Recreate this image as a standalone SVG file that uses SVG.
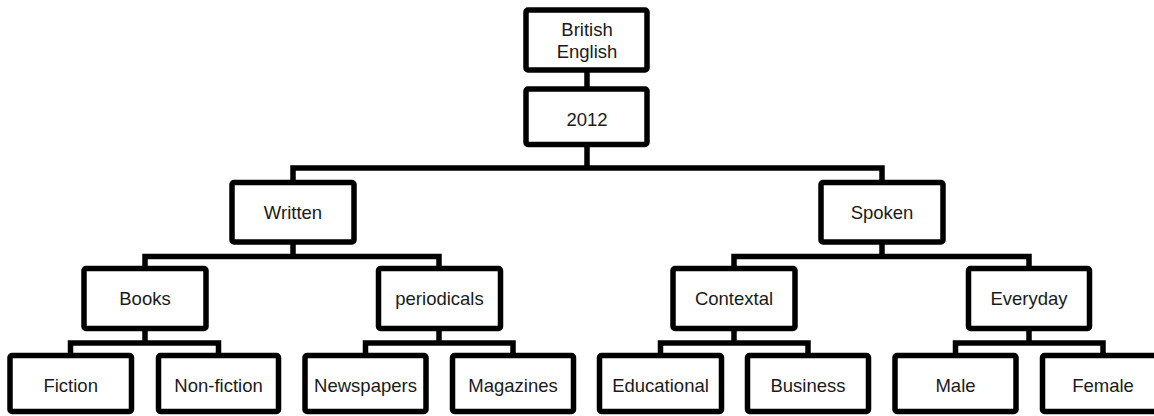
<svg xmlns="http://www.w3.org/2000/svg" width="1154" height="416" viewBox="0 0 1154 416">
<style>
.box{fill:#fff;stroke:#000;stroke-width:5.5;}
.conn{fill:none;stroke:#000;stroke-width:5.5;stroke-linejoin:miter;}
text{font-family:"Liberation Sans",Arial,sans-serif;font-size:18.5px;fill:#1a1a1a;text-anchor:middle;}
</style>
<rect width="1154" height="416" fill="#fff"/>
<g id="connectors">
<path class="conn" d="M587 70V89"/>
<path class="conn" d="M587 144V168"/>
<path class="conn" d="M293 182V168H882V182"/>
<path class="conn" d="M293 242V256.5"/>
<path class="conn" d="M145 268V256.5H439V268"/>
<path class="conn" d="M882 242V256.5"/>
<path class="conn" d="M734 268V256.5H1029V268"/>
<path class="conn" d="M145 329V343"/>
<path class="conn" d="M70.5 355V343H218.5V355"/>
<path class="conn" d="M439 329V343"/>
<path class="conn" d="M365.5 355V343H513V355"/>
<path class="conn" d="M734 329V343"/>
<path class="conn" d="M660.5 355V343H808V355"/>
<path class="conn" d="M1029 329V343"/>
<path class="conn" d="M955.5 355V343H1103V355"/>
</g>
<g id="british-english"><rect class="box" x="526" y="10" width="121" height="60" rx="2"/><text x="587" y="36">British</text><text x="587" y="57.5">English</text></g>
<g id="y2012"><rect class="box" x="526" y="89" width="121" height="55.5" rx="2"/><text x="587" y="126">2012</text></g>
<g id="written"><rect class="box" x="232" y="182.5" width="122" height="59.5" rx="2"/><text x="293" y="218.5">Written</text></g>
<g id="spoken"><rect class="box" x="821" y="182.5" width="122" height="59.5" rx="2"/><text x="882" y="218.5">Spoken</text></g>
<g id="books"><rect class="box" x="84" y="268.5" width="122" height="60" rx="2"/><text x="145" y="305">Books</text></g>
<g id="periodicals"><rect class="box" x="378.5" y="268.5" width="122" height="60" rx="2"/><text x="439.5" y="305">periodicals</text></g>
<g id="contextal"><rect class="box" x="673" y="268.5" width="122" height="60" rx="2"/><text x="734" y="305">Contextal</text></g>
<g id="everyday"><rect class="box" x="968.5" y="268.5" width="121" height="60" rx="2"/><text x="1029" y="305">Everyday</text></g>
<g id="fiction"><rect class="box" x="10" y="355.5" width="121.5" height="56" rx="2"/><text x="70.7" y="391.5">Fiction</text></g>
<g id="non-fiction"><rect class="box" x="158.5" y="355.5" width="120" height="56" rx="2"/><text x="218.5" y="391.5">Non-fiction</text></g>
<g id="newspapers"><rect class="box" x="305" y="355.5" width="121" height="56" rx="2"/><text x="365.5" y="391.5">Newspapers</text></g>
<g id="magazines"><rect class="box" x="452.5" y="355.5" width="121" height="56" rx="2"/><text x="513" y="391.5">Magazines</text></g>
<g id="educational"><rect class="box" x="599.5" y="355.5" width="122" height="56" rx="2"/><text x="660.5" y="391.5">Educational</text></g>
<g id="business"><rect class="box" x="747.5" y="355.5" width="121" height="56" rx="2"/><text x="808" y="391.5">Business</text></g>
<g id="male"><rect class="box" x="895" y="355.5" width="121" height="56" rx="2"/><text x="955.5" y="391.5">Male</text></g>
<g id="female"><rect class="box" x="1042.5" y="355.5" width="121" height="56" rx="2"/><text x="1103" y="391.5">Female</text></g>
</svg>
